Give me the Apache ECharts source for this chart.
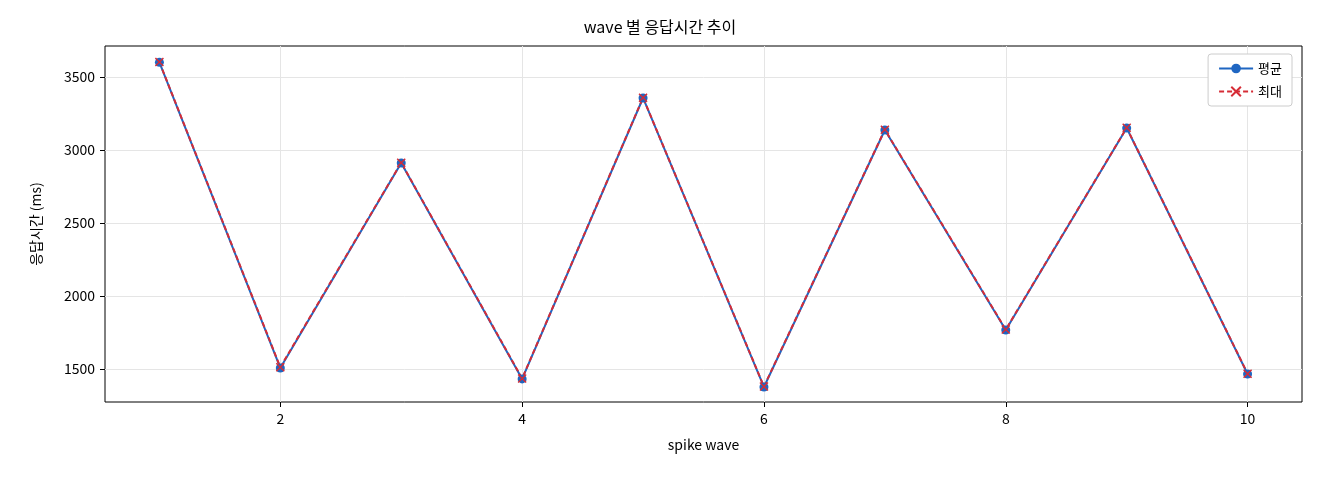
<!DOCTYPE html>
<html><head><meta charset="utf-8">
<script src="https://cdn.jsdelivr.net/npm/echarts@6/dist/echarts.min.js"></script>
<style>html,body{margin:0;padding:0;background:#fff}#c{width:1320px;height:480px}</style>
</head><body><div id="c"></div>
<script>
const waves = [1,2,3,4,5,6,7,8,9,10];
const avgVals = [3600,1507,2911,1432,3356,1377,3137,1767,3150,1466];
const maxVals = [3602,1512,2913,1435,3358,1380,3139,1770,3152,1468];
const xTicks = [2,4,6,8,10];
const yTicks = [1500,2000,2500,3000,3500];
const F = '"Noto Sans CJK KR", "DejaVu Sans", sans-serif';
const chart = echarts.init(document.getElementById('c'));
chart.setOption({
  animation:false,
  textStyle:{fontFamily:F},
  title:{text:'wave 별 응답시간 추이',left:'center',top:14,textStyle:{fontFamily:F,fontSize:16,fontWeight:'normal',color:'#000'}},
  grid:{left:105,right:18,top:46,bottom:78,show:true,borderColor:'#000',borderWidth:1},
  legend:{right:28,top:54,orient:'vertical',itemGap:10,backgroundColor:'#fff',borderColor:'#ccc',borderWidth:1,borderRadius:3,padding:[8,10],
    textStyle:{fontFamily:F,fontSize:13,color:'#000'},itemWidth:34,itemHeight:12,
    data:[{name:'평균'},{name:'최대'}]},
  xAxis:{type:'value',min:0.55,max:10.45,name:'spike wave',nameLocation:'middle',nameGap:36,
    nameTextStyle:{fontFamily:F,fontSize:14,color:'#000'},
    axisLine:{show:false},
    axisTick:{show:true,customValues:xTicks,lineStyle:{color:'#000'}},
    axisLabel:{customValues:xTicks,color:'#000',fontSize:14,margin:10,formatter:v=>String(v)},
    splitLine:{show:true,customValues:xTicks,lineStyle:{color:'#e5e5e5'}}},
  yAxis:{type:'value',min:1274,max:3712,name:'응답시간 (ms)',nameLocation:'middle',nameGap:62,
    nameTextStyle:{fontFamily:F,fontSize:14,color:'#000'},
    axisLine:{show:false},
    axisTick:{show:true,customValues:yTicks,lineStyle:{color:'#000'}},
    axisLabel:{customValues:yTicks,color:'#000',fontSize:14,margin:10,formatter:v=>String(v)},
    splitLine:{show:true,customValues:yTicks,lineStyle:{color:'#e5e5e5'}}},
  series:[
    {name:'평균',type:'line',data:waves.map((w,i)=>[w,avgVals[i]]),symbol:'circle',symbolSize:9,
     itemStyle:{color:'#1f66c2'},lineStyle:{color:'#1f66c2',width:2}},
    {name:'최대',type:'line',data:waves.map((w,i)=>[w,maxVals[i]]),
     symbol:'path://M-1,-1L1,1M1,-1L-1,1',symbolSize:8,
     itemStyle:{color:'#d62c36',borderColor:'#d62c36',borderWidth:1.5},
     lineStyle:{color:'#d62c36',width:2,type:[5,3]}}
  ]
});
</script></body></html>
